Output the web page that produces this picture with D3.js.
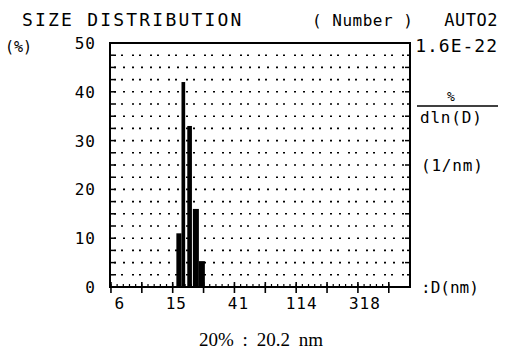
<!DOCTYPE html>
<html>
<head>
<meta charset="utf-8">
<script src="https://cdn.jsdelivr.net/npm/d3@7"></script>
<style>
  body { margin: 0; background: #fff; }
  svg text { fill: #000; }
  .mono { font-family: "DejaVu Sans Mono", monospace; }
</style>
</head>
<body>
<svg id="chart" width="519" height="351"></svg>
<script>
// Histogram bins: diameter edges (nm) and percentage per bin
const binStart = [15.0, 16.3, 17.9, 19.6, 21.6];
const binEnd   = [16.3, 17.3, 19.3, 21.6, 23.8];
const binValue = [11, 42, 33, 16, 5.3];

// Axis labels as printed by the instrument
const xTickValues = [6, 15, 41, 114, 318];
const yTickValues = [0, 10, 20, 30, 40, 50];

const svg = d3.select('#chart');

// Plot frame
const plotLeft = 110, plotRight = 410, plotTop = 43, plotBottom = 287;

const x = d3.scaleLog().domain([5.12, 660]).range([plotLeft, plotRight]);
const y = d3.scaleLinear().domain([0, 50]).range([plotBottom, plotTop]);

// Dotted grid every 2.5 %
const gridVals = d3.range(2.5, 50, 2.5);
svg.append('g')
  .selectAll('line')
  .data(gridVals)
  .join('line')
  .attr('x1', plotLeft + 4)
  .attr('x2', plotRight - 2)
  .attr('y1', d => y(d))
  .attr('y2', d => y(d))
  .attr('stroke', '#000')
  .attr('stroke-width', 1.6)
  .attr('stroke-dasharray', (d, i) => i % 2 ? '2,7' : '2,5,2,9');

// Left / right axis ticks (inward)
const sideTicks = d3.range(0, 50.1, 2.5);
svg.append('g')
  .selectAll('line')
  .data(sideTicks)
  .join('line')
  .attr('x1', plotLeft)
  .attr('x2', (d, i) => plotLeft + (i % 2 ? 4 : 6))
  .attr('y1', d => y(d))
  .attr('y2', d => y(d))
  .attr('stroke', '#000')
  .attr('stroke-width', 1.5);
svg.append('g')
  .selectAll('line')
  .data(sideTicks)
  .join('line')
  .attr('x1', plotRight)
  .attr('x2', (d, i) => plotRight - (i % 2 ? 3 : 5))
  .attr('y1', d => y(d))
  .attr('y2', d => y(d))
  .attr('stroke', '#000')
  .attr('stroke-width', 1.5);

// Bars
svg.append('g')
  .selectAll('rect')
  .data(binValue)
  .join('rect')
  .attr('x', (d, i) => x(binStart[i]))
  .attr('width', (d, i) => x(binEnd[i]) - x(binStart[i]))
  .attr('y', d => y(d))
  .attr('height', d => plotBottom - y(d))
  .attr('fill', '#000');

// Bottom axis: major ticks downward, minor ticks upward
const majorTicks = d3.range(0, 10).map(k => 5.2 * Math.exp(k * 0.5));
const minorTicks = d3.range(0, 46).map(k => 5.2 * Math.exp(k * 0.1));
svg.append('g')
  .selectAll('line')
  .data(majorTicks)
  .join('line')
  .attr('x1', d => x(d)).attr('x2', d => x(d))
  .attr('y1', plotBottom - 5).attr('y2', plotBottom + 6)
  .attr('stroke', '#000').attr('stroke-width', 1.6);
svg.append('g')
  .selectAll('line')
  .data(minorTicks)
  .join('line')
  .attr('x1', d => x(d)).attr('x2', d => x(d))
  .attr('y1', plotBottom - 3).attr('y2', plotBottom)
  .attr('stroke', '#000').attr('stroke-width', 1.2);

// Frame
svg.append('rect')
  .attr('x', plotLeft).attr('y', plotTop)
  .attr('width', plotRight - plotLeft).attr('height', plotBottom - plotTop)
  .attr('fill', 'none')
  .attr('stroke', '#000')
  .attr('stroke-width', 2);

// Y tick labels
svg.append('g')
  .selectAll('text')
  .data(yTickValues)
  .join('text')
  .attr('class', 'mono')
  .attr('x', 96)
  .attr('y', d => y(d) + 6)
  .attr('text-anchor', 'end')
  .attr('font-size', 16)
  .attr('letter-spacing', 1)
  .text(d => d);

// X tick labels
svg.append('g')
  .selectAll('text')
  .data(xTickValues)
  .join('text')
  .attr('class', 'mono')
  .attr('x', d => x(d))
  .attr('y', 309)
  .attr('text-anchor', 'middle')
  .attr('font-size', 16)
  .attr('letter-spacing', 1)
  .text(d => d);

// Titles and units
const mono = (tx, ty, str, size, anchor='start', ls=2) =>
  svg.append('text')
    .attr('class', 'mono')
    .attr('x', tx).attr('y', ty)
    .attr('text-anchor', anchor)
    .attr('font-size', size)
    .attr('letter-spacing', ls)
    .text(str);

mono(22, 26, 'SIZE DISTRIBUTION', 18, 'start', 2.2);
mono(312, 26, '( Number )', 16, 'start', 0.5);
mono(498, 26, 'AUTO2', 17, 'end', 0.5);
mono(5, 52, '(%)', 15, 'start', 0);
mono(498, 52, '1.6E-22', 18, 'end', 1);

mono(451, 101, '%', 13, 'middle', 0);
svg.append('line')
  .attr('x1', 417).attr('x2', 498)
  .attr('y1', 106).attr('y2', 106)
  .attr('stroke', '#000').attr('stroke-width', 1.5);
mono(420, 123, 'dln(D)', 16, 'start', 0.8);
mono(421, 171, '(1/nm)', 16, 'start', 0.8);
mono(421, 293, ':D(nm)', 16, 'start', 0);

// Median readout under the chart
svg.append('text')
  .attr('x', 261).attr('y', 346)
  .attr('text-anchor', 'middle')
  .attr('font-family', '"Liberation Serif", "Times New Roman", serif')
  .attr('font-size', 19)
  .attr('word-spacing', 4)
  .text('20% : 20.2 nm');
</script>
</body>
</html>
